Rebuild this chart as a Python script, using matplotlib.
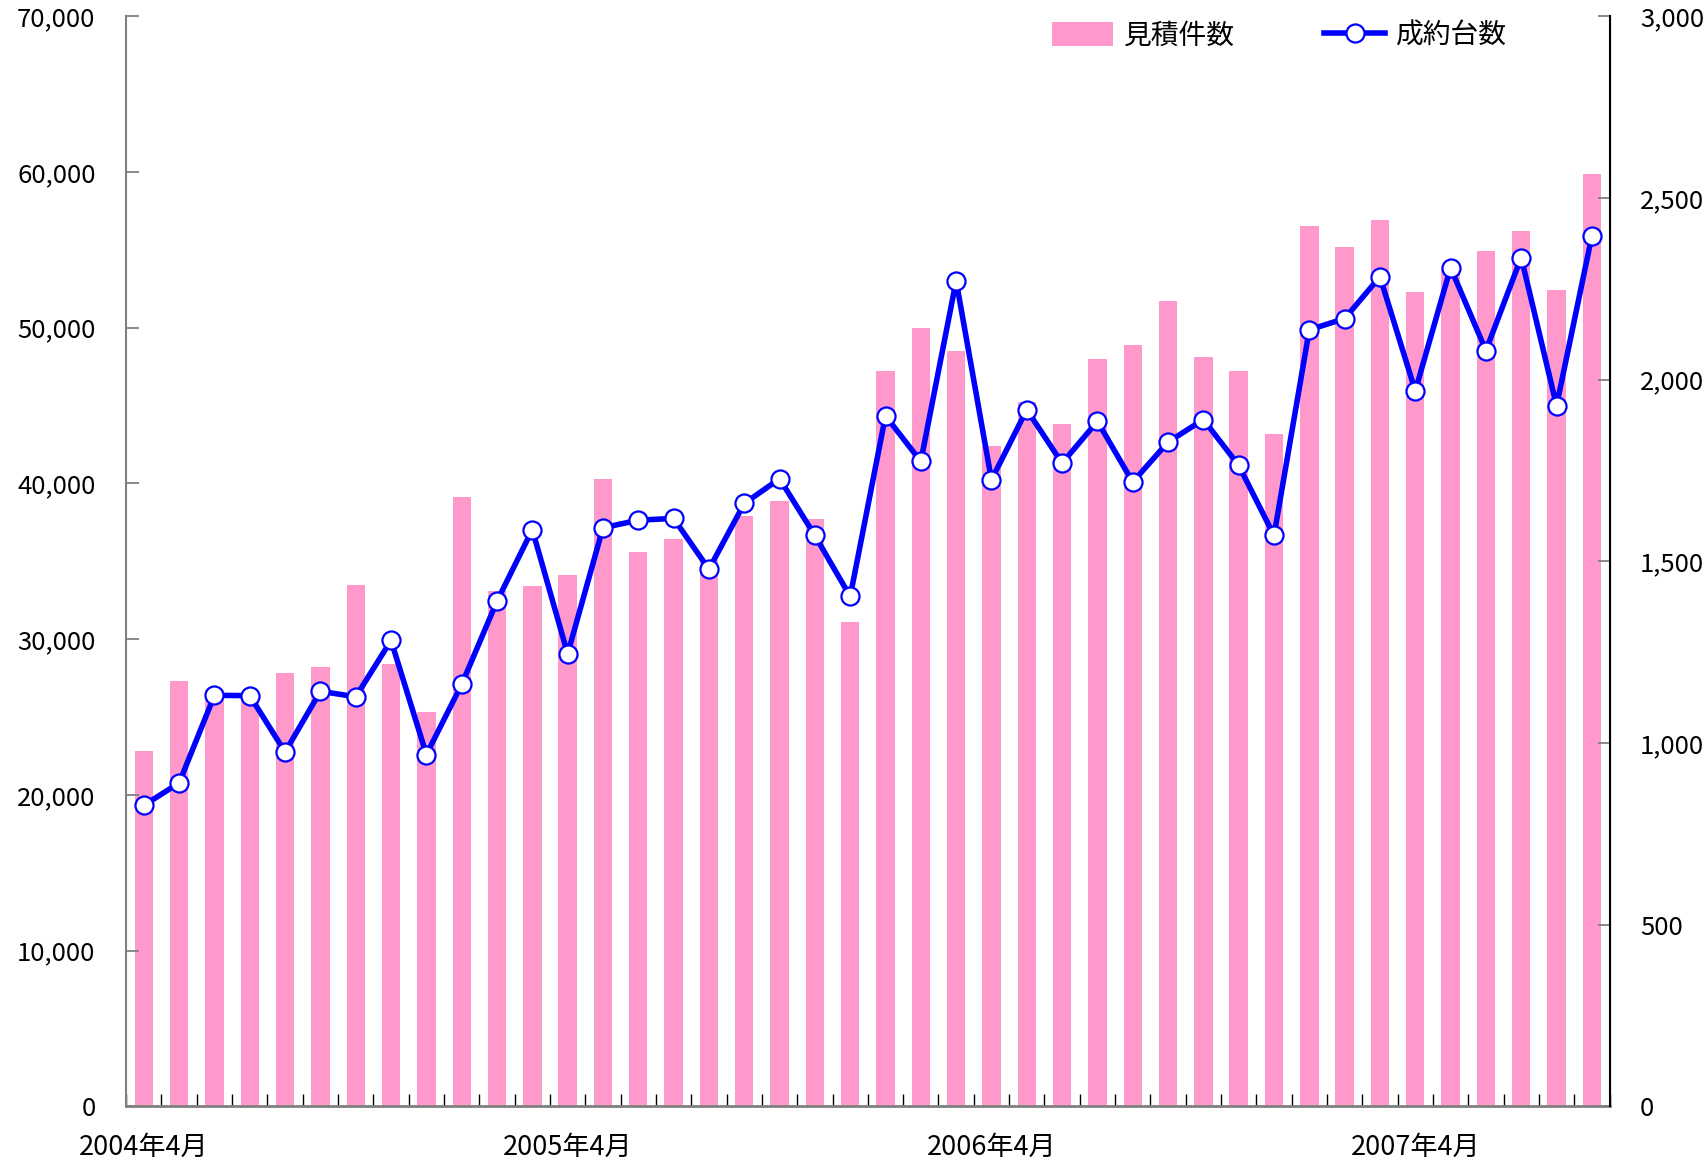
import matplotlib.pyplot as plt
from matplotlib.ticker import FuncFormatter, MultipleLocator
import numpy as np

plt.rcParams['font.family'] = ['Noto Sans CJK JP', 'DejaVu Sans']

# monthly, 2004年4月 .. 2007年9月
months = ['2004年4月'] + [''] * 11 + ['2005年4月'] + [''] * 11 + \
         ['2006年4月'] + [''] * 11 + ['2007年4月'] + [''] * 5

# 見積件数 (left axis)
estimates = [22800, 27300, 26700, 26300, 27800, 28200, 33500, 28400, 25300, 39100,
             33100, 33400, 34100, 40300, 35600, 36400, 35100, 37900, 38900, 37700,
             31100, 47200, 50000, 48500, 42400, 45200, 43800, 48000, 48900, 51700,
             48100, 47200, 43200, 56500, 55200, 56900, 52300, 53800, 54900, 56200,
             52400, 59900]

# 成約台数 (right axis)
contracts = [828, 890, 1131, 1130, 975, 1142, 1127, 1282, 968, 1161,
             1390, 1587, 1245, 1592, 1613, 1618, 1478, 1659, 1727, 1571,
             1403, 1900, 1775, 2272, 1724, 1917, 1770, 1885, 1718, 1828,
             1890, 1764, 1571, 2137, 2168, 2283, 1969, 2308, 2080, 2336,
             1928, 2395]


def plot_figure(save_path):
    fig = plt.figure(figsize=(17.05, 11.62), dpi=100)
    ax = fig.add_axes([0.074, 0.048, 0.870, 0.938])
    x = np.arange(len(estimates))

    bars = ax.bar(x, estimates, width=0.52, color='#FF99CC', label='見積件数', zorder=1)
    ax.set_xlim(-0.5, len(estimates) - 0.5)
    ax.set_ylim(0, 70000)
    ax.yaxis.set_major_locator(MultipleLocator(10000))
    ax.yaxis.set_major_formatter(FuncFormatter(lambda v, p: f'{int(v):,}'))

    ax2 = ax.twinx()
    line, = ax2.plot(x, contracts, color='#0000FF', lw=4, marker='o', ms=13,
                     mfc='white', mec='#0000FF', mew=1.6, label='成約台数', zorder=3)
    ax2.set_ylim(0, 3000)
    ax2.yaxis.set_major_locator(MultipleLocator(500))
    ax2.yaxis.set_major_formatter(FuncFormatter(lambda v, p: f'{int(v):,}'))

    # x axis: labels under April bars, small ticks between months
    ax.set_xticks(x)
    ax.set_xticklabels(months)
    ax.set_xticks(np.arange(-0.5, len(estimates), 1.0), minor=True)
    ax.tick_params(axis='x', which='major', length=0, pad=20, labelsize=19.5)
    ax.tick_params(axis='x', which='minor', direction='in', length=9, width=1.0, color='black')
    ax.tick_params(axis='y', direction='in', length=9, width=1.3, color='#808080', labelsize=18.5, pad=22)
    ax2.tick_params(axis='y', direction='in', length=9, width=1.3, color='#808080', labelsize=18.5, pad=22)

    for a in (ax, ax2):
        a.spines['top'].set_visible(False)
    ax.spines['left'].set_color('#808080')
    ax.spines['bottom'].set_color('#808080')
    ax.spines['left'].set_linewidth(1.5)
    ax.spines['bottom'].set_linewidth(2)
    ax2.spines['left'].set_visible(False)
    ax2.spines['bottom'].set_visible(False)
    ax2.spines['right'].set_color('black')
    ax2.spines['right'].set_linewidth(1.5)

    ax2.legend([bars, line], ['見積件数', '成約台数'], loc='upper right',
               bbox_to_anchor=(0.948, 1.019), ncol=2, frameon=False, fontsize=20,
               handlelength=2.2, handleheight=0.9, columnspacing=3.2, handletextpad=0.4)

    plt.savefig(save_path)


if __name__ == '__main__':
    plot_figure('out.png')
